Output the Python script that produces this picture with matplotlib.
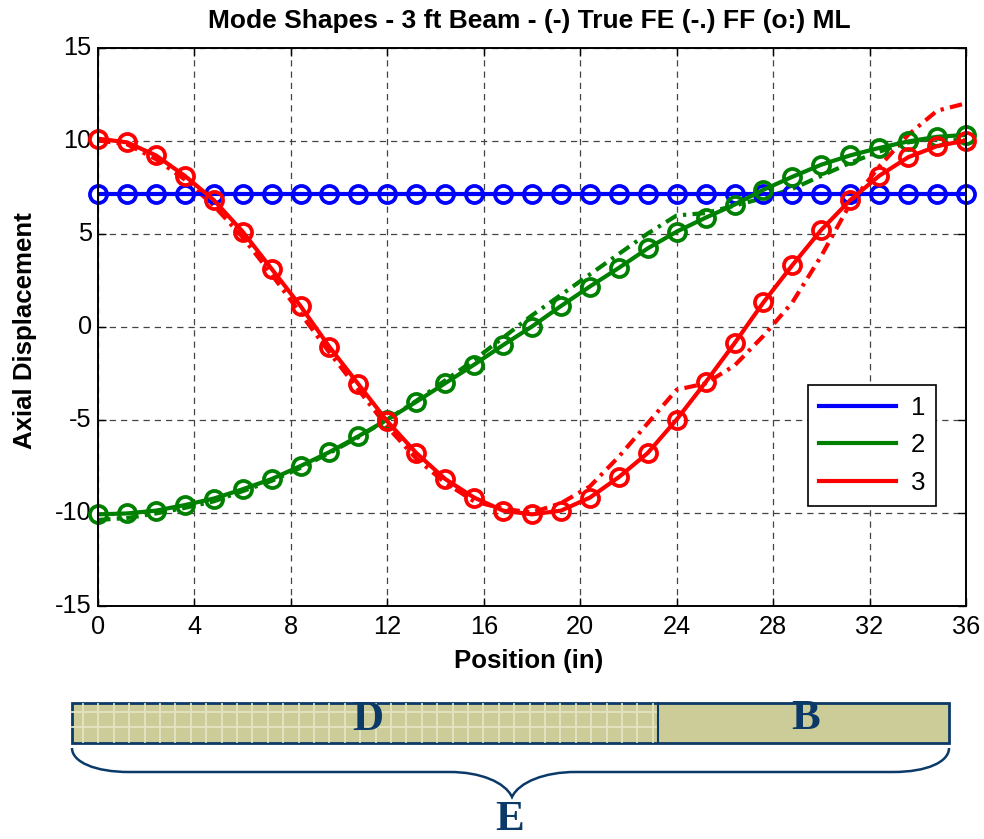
import matplotlib
matplotlib.use('Agg')
import matplotlib.pyplot as plt
from matplotlib.patches import Rectangle, PathPatch
from matplotlib.path import Path
from matplotlib.lines import Line2D
from matplotlib.transforms import ScaledTranslation
import numpy as np

plt.rcParams['font.family'] = ['Liberation Sans', 'DejaVu Sans']
plt.rcParams['axes.unicode_minus'] = False

# positions along the beam
pos = [0, 1.2, 2.4, 3.6, 4.8, 6, 7.2, 8.4, 9.6, 10.8, 12, 13.2, 14.4, 15.6, 16.8, 18,
       19.2, 20.4, 21.6, 22.8, 24, 25.2, 26.4, 27.6, 28.8, 30, 31.2, 32.4, 33.6, 34.8, 36]

mode1 = [7.15] * 31
mode2 = [-10.1, -10.05, -9.9, -9.6, -9.25, -8.75, -8.2, -7.5, -6.75, -5.9, -5.0, -4.05, -3.05, -2.05, -1.0, 0.0,
         1.1, 2.15, 3.15, 4.2, 5.1, 5.85, 6.55, 7.35, 8.05, 8.7, 9.2, 9.6, 9.95, 10.2, 10.3]
mode3 = [10.1, 9.9, 9.2, 8.1, 6.8, 5.1, 3.1, 1.1, -1.1, -3.1, -5.1, -6.8, -8.2, -9.2, -9.9, -10.1,
         -9.9, -9.2, -8.1, -6.8, -5.0, -3.0, -0.9, 1.3, 3.3, 5.2, 6.8, 8.1, 9.1, 9.7, 10.0]

# dash-dot curves (FF)
ff2 = [-10.4, -10.3, -10.05, -9.75, -9.4, -8.85, -8.3, -7.6, -6.8, -5.95, -5.0, -4.0, -2.9, -1.8, -0.6, 0.6,
       1.7, 2.8, 3.9, 5.0, 5.97, 6.1, 6.5, 6.9, 7.4, 8.1, 8.8, 9.4, 9.9, 10.1, 10.0]
ff3 = [10.0, 9.8, 9.0, 7.9, 6.5, 4.8, 2.8, 0.7, -1.4, -3.4, -5.4, -7.1, -8.4, -9.4, -9.8, -10.0,
       -9.5, -8.6, -7.0, -5.2, -3.4, -3.06, -2.1, -0.5, 1.3, 3.8, 6.6, 8.6, 10.3, 11.6, 12.0]

x_ticks = [0, 4, 8, 12, 16, 20, 24, 28, 32, 36]
y_ticks = [-15, -10, -5, 0, 5, 10, 15]
leg_labels = ['1', '2', '3']
colors = ['#0000ff', '#008000', '#ff0000']

W, H = 984, 839
fig = plt.figure(figsize=(W / 100, H / 100), dpi=100)

# beam sketch underneath, in pixel coordinates
bg = fig.add_axes([0, 0, 1, 1])
bg.set_xlim(0, W)
bg.set_ylim(H, 0)
bg.axis('off')

navy = '#0b3a68'
bg.add_patch(Rectangle((72, 703), 877, 40, fc='#cccc99', ec='none'))
for xl in np.arange(83, 658, 15.4):
    bg.plot([xl, xl], [704, 742], color='#e4e4c4', lw=1.3)
for yl in [712, 727]:
    bg.plot([72, 658], [yl, yl], color='#e4e4c4', lw=1.3)
bg.add_patch(Rectangle((72, 703), 877, 40, fc='none', ec=navy, lw=2))
bg.plot([658, 658], [703, 743], color=navy, lw=1.5)

brace = Path([(72, 748), (72, 762), (95, 772), (129, 772), (450, 772),
              (480, 772), (505, 782), (512, 797),
              (519, 782), (545, 772), (575, 772), (893, 772),
              (927, 772), (949, 762), (949, 748)],
             [Path.MOVETO, Path.CURVE4, Path.CURVE4, Path.CURVE4, Path.LINETO,
              Path.CURVE4, Path.CURVE4, Path.CURVE4,
              Path.CURVE4, Path.CURVE4, Path.CURVE4, Path.LINETO,
              Path.CURVE4, Path.CURVE4, Path.CURVE4])
bg.add_patch(PathPatch(brace, fc='none', ec=navy, lw=1.8))

for s, tx, ty in [('D', 368, 720), ('B', 806, 719), ('E', 510, 820)]:
    bg.text(tx, ty, s, family='Liberation Serif', weight='bold', fontsize=31, color=navy,
            ha='center', va='center')

# main plot
ax = fig.add_axes([98 / W, 1 - 605.5 / H, 868 / W, 558 / H])
ax.patch.set_alpha(0)

lw = 3.0
for ff, col in zip([None, ff2, ff3], colors):
    if ff is not None:
        ax.plot(pos, ff, color=col, lw=lw, ls=(0, (3, 1.5, 0.8, 1.5)))
for vals, col in zip([mode1, mode2, mode3], colors):
    ax.plot(pos, vals, color=col, lw=lw)
    ax.plot(pos, vals, color=col, ls='none', marker='o', ms=12.3, mfc='none', mew=2.7, clip_on=False)

ax.set_xlim(0, 36)
ax.set_ylim(-15, 15)
ax.set_xticks(x_ticks)
ax.set_yticks(y_ticks)
ax.grid(True, color='#444444', ls=(0, (5, 4)), lw=0.9)
ax.set_axisbelow(True)
ax.tick_params(direction='in', top=True, right=True, length=6, width=1, labelsize=18.3, pad=4.5)
ax.tick_params(axis='x', pad=7)
for sp in ax.spines.values():
    sp.set_linewidth(1.4)

# y labels sit a little above their ticks in the original
shift = ScaledTranslation(0, 2 / 100, fig.dpi_scale_trans)
for lbl in ax.get_yticklabels():
    lbl.set_transform(lbl.get_transform() + shift)

ax.set_title('Mode Shapes - 3 ft Beam - (-) True FE (-.) FF (o:) ML', fontsize=19, weight='bold', pad=14, x=0.497)
ax.set_xlabel('Position (in)', fontsize=18.6, weight='bold', va='center')
ax.set_ylabel('Axial Displacement', fontsize=18.6, weight='bold', va='center')
ax.xaxis.set_label_coords(0.4965, -0.1)
ax.yaxis.set_label_coords(-0.084, 0.493)

handles = [Line2D([], [], color=c, lw=lw) for c in colors]
leg = ax.legend(handles, leg_labels, loc='upper left', bbox_to_anchor=(808 / W, 1 - 385 / H),
                bbox_transform=fig.transFigure, fontsize=18.6, frameon=True, fancybox=False, framealpha=1,
                edgecolor='black', handlelength=3.0, handletextpad=0.55, labelspacing=0.52,
                borderpad=0.42, borderaxespad=0)
leg.get_frame().set_linewidth(1.2)

fig.savefig('out.png', dpi=100)
